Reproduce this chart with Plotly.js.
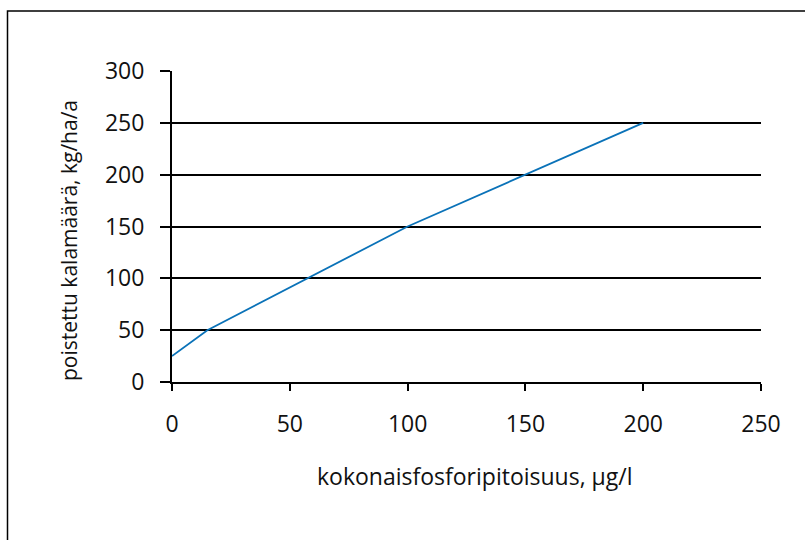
<!DOCTYPE html>
<html>
<head>
<meta charset="utf-8">
<script src="https://cdn.plot.ly/plotly-3.0.1.min.js"></script>
<style>html,body{margin:0;padding:0;background:#fff;}#chart{width:805px;height:540px;}</style>
</head>
<body>
<div id="chart"></div>
<script>
const phosphorus = [0, 15, 100, 150, 200];
const fishRemoved = [25, 50, 150, 200, 250];
const xTicks = [0, 50, 100, 150, 200, 250];
const yTicks = [0, 50, 100, 150, 200, 250, 300];
const xTitle = 'kokonaisfosforipitoisuus, µg/l';
const yTitle = 'poistettu kalamäärä, kg/ha/a';

const FONT = '"Open Sans", "Noto Sans", sans-serif';
const TXT = '#111';
const L = 172, R = 44, T = 71, B = 158;
const W = 805 - L - R, H = 540 - T - B;
const px = v => (v - L) / W;
const py = v => (540 - B - v) / H;

const trace = {
  x: phosphorus, y: fishRemoved, type: 'scatter', mode: 'lines',
  line: {color: '#0a72b8', width: 1.8}, hoverinfo: 'skip'
};

const layout = {
  width: 805, height: 540,
  margin: {l: L, r: R, t: T, b: B},
  paper_bgcolor: '#fff', plot_bgcolor: '#fff',
  showlegend: false,
  font: {family: FONT, size: 23, color: TXT},
  xaxis: {
    range: [0, 250], tickvals: xTicks, ticktext: xTicks.map(String),
    showgrid: false, zeroline: false, showline: true, linecolor: '#000', linewidth: 2,
    ticks: 'outside', ticklen: 7, tickwidth: 2, tickcolor: '#000',
    ticklabelstandoff: 13, tickfont: {family: FONT, size: 23, color: TXT},
    fixedrange: true
  },
  yaxis: {
    range: [0, 300], tickvals: yTicks, ticktext: yTicks.map(String),
    showgrid: true, gridcolor: '#000', gridwidth: 2, zeroline: false,
    showline: true, linecolor: '#000', linewidth: 2,
    ticks: 'outside', ticklen: 10, tickwidth: 2, tickcolor: '#000',
    ticklabelstandoff: 11, tickfont: {family: FONT, size: 23, color: TXT},
    fixedrange: true
  },
  annotations: [
    {text: xTitle, xref: 'paper', yref: 'paper', x: px(475), y: py(476),
     xanchor: 'center', yanchor: 'middle', showarrow: false,
     font: {family: FONT, size: 23, color: TXT}},
    {text: yTitle, xref: 'paper', yref: 'paper', x: px(69), y: py(240),
     xanchor: 'center', yanchor: 'middle', showarrow: false, textangle: -90,
     font: {family: FONT, size: 21, color: TXT}}
  ],
  shapes: [
    {type: 'rect', xref: 'paper', yref: 'paper', x0: px(7.5), x1: px(820), y0: py(11), y1: py(560),
     line: {color: '#000', width: 1.5}, fillcolor: 'rgba(0,0,0,0)', layer: 'above'}
  ]
};

Plotly.newPlot('chart', [trace], layout, {staticPlot: true, displayModeBar: false});
</script>
</body>
</html>
